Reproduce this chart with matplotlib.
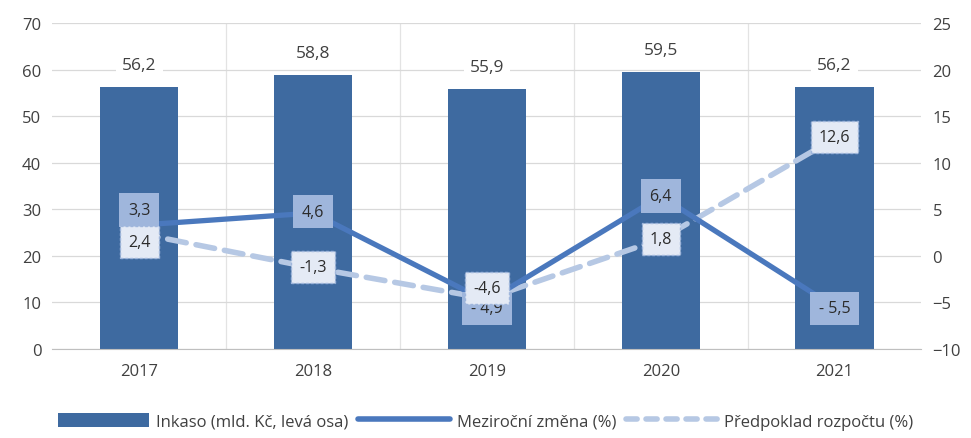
import matplotlib
matplotlib.use("Agg")
import matplotlib.pyplot as plt
from matplotlib.lines import Line2D
from matplotlib.patches import Patch

years = ["2017", "2018", "2019", "2020", "2021"]
inkaso = [56.2, 58.8, 55.9, 59.5, 56.2]
mezirocni = [3.3, 4.6, -4.9, 6.4, -5.5]
predpoklad = [2.4, -1.3, -4.6, 1.8, 12.6]

bar_labels = ["56,2", "58,8", "55,9", "59,5", "56,2"]
mez_labels = ["3,3", "4,6", "- 4,9", "6,4", "- 5,5"]
pred_labels = ["2,4", "-1,3", "-4,6", "1,8", "12,6"]

plt.rcParams["font.family"] = ["Open Sans", "DejaVu Sans"]

BAR = "#3e6aa0"
LINE = "#4a78bd"
DASH = "#b6c8e4"
TXT = "#404040"

fig = plt.figure(figsize=(9.71, 4.39), dpi=100)
ax = fig.add_axes([0.054, 0.203, 0.895, 0.742])
ax2 = ax.twinx()

x = list(range(len(years)))
ax.bar(x, inkaso, width=0.45, color=BAR, zorder=2)
ax.set_ylim(0, 70)
ax.set_yticks(range(0, 71, 10))
ax.set_xlim(-0.5, len(years) - 0.5)
ax.set_xticks(x)
ax.set_xticklabels(years)
ax.set_xticks([i + 0.5 for i in range(len(years) - 1)], minor=True)
ax.grid(axis="y", color="#d9d9d9", lw=0.9, zorder=0)
ax.grid(axis="x", which="minor", color="#e3e3e3", lw=0.9, zorder=0)
ax.tick_params(axis="x", which="both", length=0, labelsize=12, colors=TXT, pad=10)
ax.tick_params(axis="y", length=0, labelsize=12, colors=TXT, pad=8)
for s in ["top", "left", "right"]:
    ax.spines[s].set_visible(False)
ax.spines["bottom"].set_color("#bfbfbf")

for xi, v, lab in zip(x, inkaso, bar_labels):
    ax.annotate(lab, (xi, v), xytext=(0, 16), textcoords="offset points",
                ha="center", va="center", fontsize=12.5, color=TXT, zorder=5,
                bbox=dict(boxstyle="square,pad=0.35", fc="white", ec="none"))

ax2.set_ylim(-10, 25)
ax2.set_yticks(range(-10, 26, 5))
ax2.tick_params(axis="y", length=0, labelsize=12, colors=TXT, pad=8)
for s in ["top", "left", "right", "bottom"]:
    ax2.spines[s].set_visible(False)

ax2.plot(x, predpoklad, color=DASH, lw=4, ls=(0, (3.4, 1.8)), solid_capstyle="round",
         dash_capstyle="round", zorder=3)
ax2.plot(x, mezirocni, color=LINE, lw=3.8, zorder=4)

mez_offsets = [(0, 11), (0, 1), (0, -5), (0, 0), (0, -1)]
for xi, v, lab, off in zip(x, mezirocni, mez_labels, mez_offsets):
    ax2.annotate(lab, (xi, v), xytext=off, textcoords="offset points",
                 ha="center", va="center", fontsize=11.5, color="#2b2b2b", zorder=6,
                 bbox=dict(boxstyle="square,pad=0.55", fc="#9fb6dc", ec="none"))

pred_offsets = [(0, -6), (0, 1), (0, 8), (0, 0), (0, 1)]
for xi, v, lab, off in zip(x, predpoklad, pred_labels, pred_offsets):
    ax2.annotate(lab, (xi, v), xytext=off, textcoords="offset points",
                 ha="center", va="center", fontsize=11.5, color="#2b2b2b", zorder=7,
                 bbox=dict(boxstyle="square,pad=0.5", fc="#e4eaf5", ec="#9fb6dc",
                           ls=(0, (2, 1.5)), lw=1))

handles = [
    Patch(facecolor=BAR, edgecolor="none"),
    Line2D([], [], color=LINE, lw=4, solid_capstyle="round"),
    Line2D([], [], color=DASH, lw=4, ls=(0, (2, 1.6)), dash_capstyle="round"),
]
labels = ["Inkaso (mld. Kč, levá osa)", "Meziroční změna (%)", "Předpoklad rozpočtu (%)"]
fig.legend(handles, labels, loc="lower center", bbox_to_anchor=(0.5, -0.015), ncol=3,
           frameon=False, fontsize=12, handlelength=5.5, handleheight=0.9,
           columnspacing=0.6, handletextpad=0.4, labelcolor=TXT)

fig.savefig("out.png", dpi=100)
